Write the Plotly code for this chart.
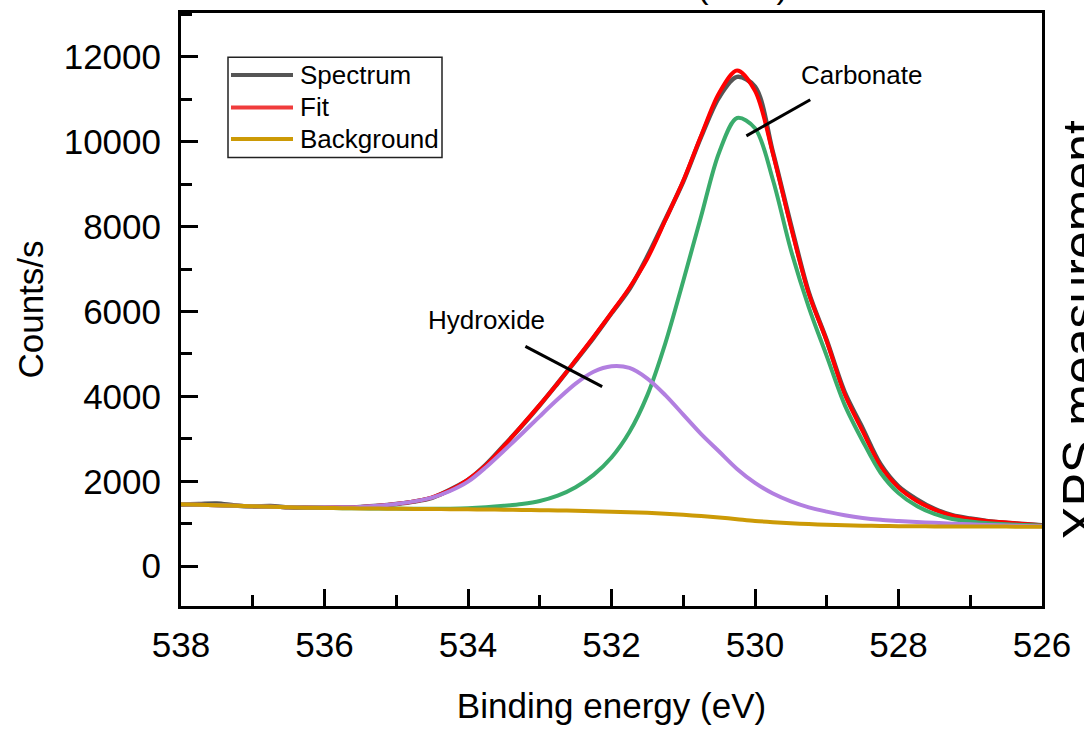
import plotly.graph_objects as go

# Binding energy grid (eV) and O 1s intensities (counts/s)
energy = [538.0, 537.75, 537.5, 537.25, 537.0, 536.75, 536.5, 536.25, 536.0,
          535.75, 535.5, 535.25, 535.0, 534.75, 534.5, 534.25, 534.0,
          533.75, 533.5, 533.25, 533.0, 532.75, 532.5, 532.25, 532.0,
          531.75, 531.5, 531.25, 531.0, 530.75, 530.5, 530.25, 530.0,
          529.75, 529.5, 529.25, 529.0, 528.75, 528.5, 528.25, 528.0,
          527.75, 527.5, 527.25, 527.0, 526.75, 526.5, 526.25, 526.0]

spectrum = [1450, 1462, 1475, 1430, 1408, 1415, 1386, 1378, 1375,
            1380, 1393, 1420, 1462, 1520, 1610, 1800, 2030,
            2390, 2840, 3300, 3790, 4310, 4840, 5380, 5960,
            6530, 7300, 8170, 9060, 10120, 11050, 11530, 11300,
            9750, 8050, 6450, 5320, 4100, 3250, 2400, 1880,
            1580, 1350, 1200, 1120, 1060, 1020, 990, 960]

fit = [1455, 1445, 1435, 1422, 1410, 1398, 1388, 1380, 1378,
       1382, 1395, 1422, 1465, 1525, 1620, 1790, 2040,
       2380, 2830, 3310, 3800, 4310, 4850, 5400, 5970,
       6560, 7250, 8150, 9080, 10150, 11150, 11680, 11200,
       9720, 8000, 6420, 5300, 4050, 3180, 2350, 1850,
       1540, 1330, 1190, 1110, 1060, 1030, 995, 965]

carbonate = [1455, 1445, 1435, 1422, 1410, 1398, 1388, 1378, 1371,
             1366, 1362, 1358, 1355, 1353, 1352, 1354, 1362,
             1385, 1420, 1465, 1535, 1660, 1860, 2150, 2560,
             3160, 4030, 5250, 6720, 8250, 9750, 10560, 10320,
             9100, 7450, 6100, 4950, 3800, 2950, 2200, 1720,
             1420, 1230, 1110, 1050, 1010, 985, 970, 960]

hydroxide = [1455, 1445, 1435, 1422, 1410, 1399, 1390, 1383, 1380,
             1385, 1395, 1420, 1465, 1525, 1615, 1770, 1990,
             2330, 2720, 3120, 3530, 3930, 4300, 4580, 4710,
             4670, 4420, 4030, 3570, 3110, 2700, 2290, 1960,
             1710, 1525, 1385, 1285, 1200, 1135, 1092, 1065,
             1040, 1020, 1000, 985, 970, 958, 948, 940]

background = [1455, 1445, 1435, 1422, 1410, 1398, 1388, 1378, 1370,
              1365, 1360, 1356, 1352, 1348, 1345, 1341, 1338,
              1334, 1330, 1324, 1318, 1312, 1305, 1295, 1282,
              1268, 1255, 1235, 1210, 1180, 1145, 1105, 1065,
              1035, 1010, 990, 975, 962, 953, 946, 941,
              938, 936, 934, 933, 932, 931, 930, 930]

x_ticks = [538, 536, 534, 532, 530, 528, 526]
y_ticks = [0, 2000, 4000, 6000, 8000, 10000, 12000]

legend_names = ["Spectrum", "Fit", "Background"]
COL_SPEC = "#555555"
COL_FIT = "#ff0000"
COL_BG = "#cc9a06"
COL_CARB = "#3aac6c"
COL_HYD = "#b27fe0"
FONT = "Liberation Sans, Arial, sans-serif"

fig = go.Figure()

def add_line(y, color, width=4):
    fig.add_trace(go.Scatter(
        x=energy, y=y, mode="lines", showlegend=False, hoverinfo="skip",
        line=dict(color=color, width=width, shape="spline", smoothing=0.9)))

add_line(spectrum, COL_SPEC, 4.5)
add_line(fit, COL_FIT, 4)
add_line(carbonate, COL_CARB, 4)
add_line(hydroxide, COL_HYD, 4)
add_line(background, COL_BG, 4)

# plot-area geometry in pixels, used to place the legend box
L, R, T, B = 181, 1042, 10, 613
def px(x):
    return (x - L) / (R - L)
def py(y):
    return (B - y) / (B - T)

shapes = [dict(type="rect", xref="paper", yref="paper",
               x0=px(228), x1=px(442), y0=py(157), y1=py(55),
               line=dict(color="#222222", width=1.5), fillcolor="white", layer="above")]
annotations = []
for name, col, yy in zip(legend_names, [COL_SPEC, "#f03c3c", COL_BG], [73, 106, 138]):
    shapes.append(dict(type="line", xref="paper", yref="paper",
                       x0=px(231), x1=px(293), y0=py(yy), y1=py(yy),
                       line=dict(color=col, width=4), layer="above"))
    annotations.append(dict(text=name, xref="paper", yref="paper",
                            x=px(298), y=py(yy), xanchor="left", yanchor="middle",
                            showarrow=False, font=dict(size=26, color="black", family=FONT)))

# peak labels with pointer lines
shapes.append(dict(type="line", xref="x", yref="y", x0=529.23, y0=10990,
                   x1=530.12, y1=10140, line=dict(color="black", width=3)))
shapes.append(dict(type="line", xref="x", yref="y", x0=533.2, y0=5180,
                   x1=532.13, y1=4230, line=dict(color="black", width=3)))
annotations.append(dict(text="Carbonate", x=528.52, y=11580, xref="x", yref="y",
                        showarrow=False, font=dict(size=26, color="black", family=FONT)))
annotations.append(dict(text="Hydroxide", x=533.74, y=5800, xref="x", yref="y",
                        showarrow=False, font=dict(size=26, color="black", family=FONT)))

# panel title above the frame and neighbouring axis title on the right
annotations.append(dict(text="O 1s (LDH)", xref="paper", yref="paper",
                        x=px(790), y=py(4), xanchor="right", yanchor="bottom",
                        showarrow=False, font=dict(size=34, color="black", family=FONT)))
annotations.append(dict(text="XPS measurement", xref="paper", yref="paper",
                        x=px(1051), y=py(332), xanchor="left", yanchor="middle",
                        textangle=-90, showarrow=False,
                        font=dict(size=50, color="black", family=FONT)))

axis_common = dict(
    showgrid=False, zeroline=False, showline=True, linecolor="black", linewidth=3,
    mirror=True, ticks="inside", ticklen=17, tickwidth=3, tickcolor="black",
    tickfont=dict(size=35, color="black", family=FONT),
)

fig.update_layout(
    width=1084, height=730,
    margin=dict(l=L, r=1084 - R, t=T, b=730 - B),
    paper_bgcolor="white", plot_bgcolor="white",
    showlegend=False,
    shapes=shapes, annotations=annotations,
    xaxis=dict(range=[538, 526], tickvals=x_ticks, ticktext=[str(v) for v in x_ticks],
               minor=dict(dtick=1, ticks="inside", ticklen=11, tickwidth=3, tickcolor="black"),
               title=dict(text="Binding energy (eV)", font=dict(size=35, color="black", family=FONT),
                          standoff=31),
               ticklabelstandoff=6, **axis_common),
    yaxis=dict(range=[-940, 13035], tickvals=y_ticks, ticktext=[str(v) for v in y_ticks],
               minor=dict(dtick=1000, ticks="inside", ticklen=11, tickwidth=3, tickcolor="black"),
               title=dict(text="Counts/s", font=dict(size=35, color="black", family=FONT),
                          standoff=10),
               ticklabelstandoff=10, **axis_common),
)

fig.write_html("out.html")
